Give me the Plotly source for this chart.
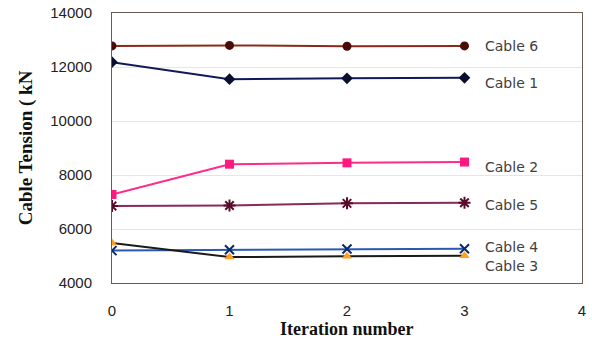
import plotly.graph_objects as go

iterations = [0, 1, 2, 3]
cable6 = [12780, 12800, 12770, 12780]
cable1 = [12180, 11550, 11580, 11600]
cable2 = [7280, 8400, 8450, 8480]
cable5 = [6850, 6870, 6950, 6970]
cable4 = [5200, 5230, 5260, 5270]
cable3 = [5480, 4960, 4990, 5010]
y_ticks = [4000, 6000, 8000, 10000, 12000, 14000]
x_ticks = [0, 1, 2, 3, 4]

series = [
    ("Cable 6", cable6, "#8b2a1a", dict(symbol="circle", size=9, color="#4a0a0a")),
    ("Cable 1", cable1, "#101a5a", dict(symbol="diamond", size=9, color="#0a0f30")),
    ("Cable 2", cable2, "#ff2a8a", dict(symbol="square", size=9, color="#ff1a80")),
    ("Cable 5", cable5, "#8a2a5a", dict(symbol="asterisk-open", size=10, color="#5a0a2a", line=dict(width=2, color="#5a0a2a"))),
    ("Cable 4", cable4, "#2a5ab0", dict(symbol="x-thin-open", size=9, color="#0a2a6a", line=dict(width=2, color="#0a2a6a"))),
    ("Cable 3", cable3, "#1a1a1a", dict(symbol="triangle-up", size=9, color="#ffa020")),
]
label_y = {"Cable 6": 12780, "Cable 1": 11400, "Cable 2": 8300, "Cable 5": 6890,
           "Cable 4": 5340, "Cable 3": 4640}

fig = go.Figure()
for name, vals, lc, mk in series:
    fig.add_trace(go.Scatter(x=iterations, y=vals, mode="lines+markers", name=name,
                             line=dict(color=lc, width=2), marker=mk, showlegend=False))
    fig.add_annotation(x=3.16, y=label_y[name], text=name, showarrow=False, xanchor="left",
                       yanchor="middle",
                       font=dict(family="DejaVu Sans", size=14, color="#404040"))

fig.add_annotation(xref="paper", yref="paper", x=0.5, y=-0.172, yanchor="middle",
                   text="<b>Iteration number</b>", showarrow=False,
                   font=dict(family="Liberation Serif, Times New Roman", size=18, color="#111"))
fig.add_annotation(xref="paper", yref="paper", x=-0.21, y=0.5, textangle=-90,
                   text="<b>Cable Tension ( kN</b>", showarrow=False,
                   font=dict(family="Liberation Serif, Times New Roman", size=19, color="#111"))

fig.update_layout(
    width=592, height=340,
    margin=dict(l=112, r=10, t=13, b=57),
    paper_bgcolor="white", plot_bgcolor="white",
    xaxis=dict(range=[0, 4], tickvals=x_ticks, showgrid=False, zeroline=False,
               showline=True, linecolor="#6a5a50", linewidth=1, mirror=True,
               ticklabelstandoff=14, automargin=False,
               tickfont=dict(family="Liberation Sans, Arial", size=15, color="#222")),
    yaxis=dict(range=[4000, 14000], tickvals=y_ticks, tickformat="d", showgrid=True,
               gridcolor="#eee4da", gridwidth=1, zeroline=False, showline=True,
               linecolor="#6a5a50", linewidth=1, mirror=True, ticklabelstandoff=16,
               automargin=False,
               tickfont=dict(family="Liberation Sans, Arial", size=15, color="#222")),
)
fig.write_html("out.html")
